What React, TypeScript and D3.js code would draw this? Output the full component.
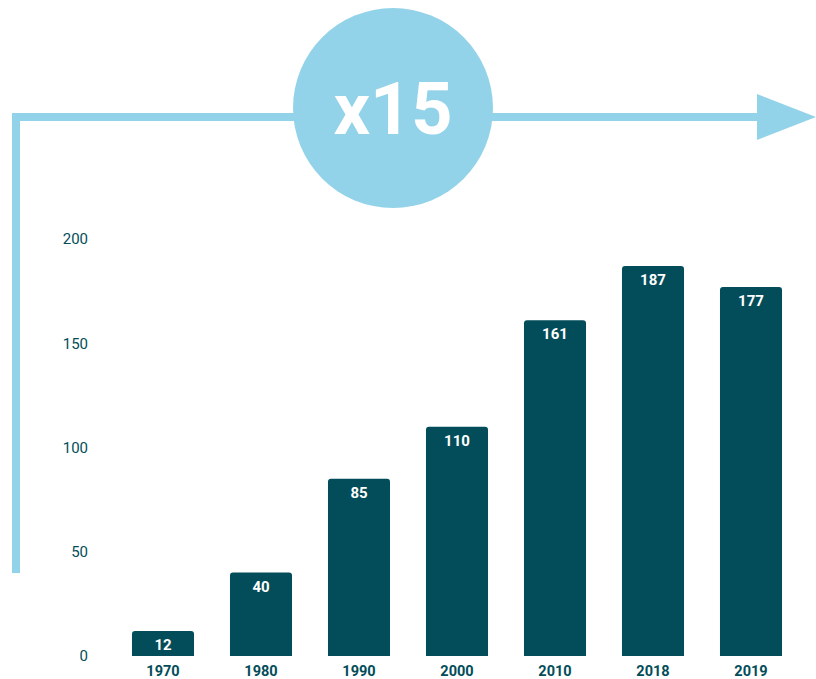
import React, { useEffect, useRef } from "react";
import * as d3 from "d3";

const years = ["1970", "1980", "1990", "2000", "2010", "2018", "2019"];
const values = [12, 40, 85, 110, 161, 187, 177];
const yTicks = [0, 50, 100, 150, 200];
const badgeText = "x15";

const W = 816;
const H = 679;
const DARK = "#024d59";
const LIGHT = "#93d3e9";

const App = () => {
  const svgRef = useRef<SVGSVGElement>(null);

  useEffect(() => {
    if (!svgRef.current) return;
    const svg = d3.select(svgRef.current);
    svg.selectAll("*").remove();
    svg.attr("width", W).attr("height", H);

    // Scales
    const x = d3
      .scaleBand()
      .domain(years)
      .range([114, 800])
      .paddingInner(0.367)
      .paddingOuter(0.1835);

    const y = d3.scaleLinear().domain([0, 200]).range([656, 239]);

    // Growth arrow
    svg
      .append("path")
      .attr("d", "M16,573 V117 H760")
      .attr("fill", "none")
      .attr("stroke", LIGHT)
      .attr("stroke-width", 8);

    svg
      .append("path")
      .attr("d", "M757,94 L816,117 L757,140 Z")
      .attr("fill", LIGHT);

    svg
      .append("circle")
      .attr("cx", 393)
      .attr("cy", 108)
      .attr("r", 100)
      .attr("fill", LIGHT);

    svg
      .append("text")
      .attr("x", 393)
      .attr("y", 134)
      .attr("text-anchor", "middle")
      .attr("fill", "white")
      .attr("font-family", "Roboto, Arial, sans-serif")
      .attr("font-weight", 700)
      .attr("font-size", 72)
      .text(badgeText);

    // Y axis labels
    svg
      .append("g")
      .selectAll("text")
      .data(yTicks)
      .enter()
      .append("text")
      .attr("x", 88)
      .attr("y", (d) => y(d))
      .attr("dy", "0.35em")
      .attr("text-anchor", "end")
      .attr("fill", DARK)
      .attr("font-family", "Roboto, Arial, sans-serif")
      .attr("font-size", 15)
      .text((d) => d);

    // Bars with rounded tops
    const r = 3;
    svg
      .append("g")
      .selectAll("path")
      .data(values)
      .enter()
      .append("path")
      .attr("d", (d, i) => {
        const x0 = x(years[i]) as number;
        const x1 = x0 + x.bandwidth();
        const y0 = y(0);
        const y1 = y(d);
        return `M${x0},${y0} V${y1 + r} Q${x0},${y1} ${x0 + r},${y1} H${x1 - r} Q${x1},${y1} ${x1},${y1 + r} V${y0} Z`;
      })
      .attr("fill", DARK);

    // Value labels
    svg
      .append("g")
      .selectAll("text")
      .data(values)
      .enter()
      .append("text")
      .attr("x", (d, i) => (x(years[i]) as number) + x.bandwidth() / 2)
      .attr("y", (d) => y(d) + 19)
      .attr("text-anchor", "middle")
      .attr("fill", "white")
      .attr("font-family", "Roboto, Arial, sans-serif")
      .attr("font-weight", 700)
      .attr("font-size", 15)
      .text((d) => d);

    // X axis labels
    svg
      .append("g")
      .selectAll("text")
      .data(years)
      .enter()
      .append("text")
      .attr("x", (d) => (x(d) as number) + x.bandwidth() / 2)
      .attr("y", 676)
      .attr("text-anchor", "middle")
      .attr("fill", DARK)
      .attr("font-family", "Roboto, Arial, sans-serif")
      .attr("font-weight", 700)
      .attr("font-size", 14.5)
      .text((d) => d);
  }, []);

  return (
    <div style={{ position: "absolute", left: 0, top: 0 }}>
      <svg ref={svgRef} style={{ display: "block" }}></svg>
    </div>
  );
};

export default App;
